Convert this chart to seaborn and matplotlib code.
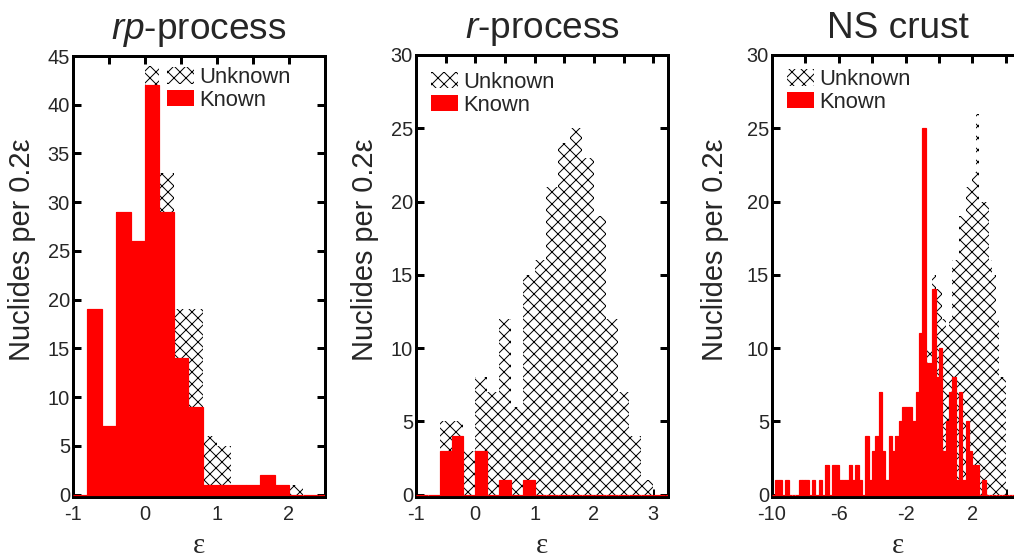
import numpy as np
import pandas as pd
import matplotlib
matplotlib.use("Agg")
import matplotlib.pyplot as plt
from matplotlib.patches import Patch
import seaborn as sns

# ── data: nuclides per 0.2 bin ───────────────────────────────
BIN = 0.2

rp_start = -1.0
rp_known = [0, 19, 7, 29, 26, 42, 29, 14, 9, 1, 1, 1, 1, 2, 1, 0, 0, 0]
rp_total = [0, 19, 7, 29, 26, 44, 33, 19, 19, 6, 5, 1, 1, 2, 1, 1, 0, 0]

r_start = -1.0
r_known = [0, 0, 3, 4, 0, 3, 0, 1, 0, 1, 0, 0, 0, 0, 0, 0, 0, 0, 0, 0, 0, 0]
r_total = [0, 0, 5, 5, 3, 8, 7, 12, 6, 15, 16, 21, 24, 25, 23, 19, 12, 7, 4, 1, 0, 0]

ns_start = -10.0
ns_known = [0, 1, 1, 0, 1, 0, 0, 0, 1, 1,
            1, 0, 1, 0, 1, 0, 2, 0, 2, 2,
            1, 1, 1, 2, 1, 2, 1, 0, 4, 1,
            3, 4, 7, 3, 1, 4, 3, 4, 5, 6,
            6, 6, 5, 7, 11, 25, 9, 9, 14, 8,
            10, 3, 5, 7, 8, 1, 7, 1, 5, 3,
            2, 2, 0, 1, 0, 0, 0, 0, 0, 0,
            0, 0, 0, 0, 0]
ns_total = [0, 1, 1, 0, 1, 0, 0, 0, 1, 1,
            1, 0, 1, 0, 1, 0, 2, 0, 2, 2,
            1, 1, 1, 2, 1, 2, 1, 0, 4, 1,
            3, 4, 7, 3, 1, 4, 3, 4, 5, 6,
            6, 6, 5, 7, 11, 25, 10, 10, 15, 14,
            14, 12, 11, 12, 16, 16, 19, 19, 21, 21,
            22, 26, 20, 20, 20, 16, 15, 12, 8, 8,
            0, 0, 0, 0, 0]

titles = [r"$\mathit{rp}$-process", r"$\mathit{r}$-process", "NS crust"]

# ── style ────────────────────────────────────────────────────
sns.set_style("ticks")
plt.rcParams["font.family"] = ["Liberation Sans", "DejaVu Sans"]
plt.rcParams["mathtext.fontset"] = "custom"
plt.rcParams["mathtext.rm"] = "Liberation Sans"
plt.rcParams["mathtext.it"] = "Liberation Sans:italic"
plt.rcParams["hatch.linewidth"] = 1.0

W, H, DPI = 1014, 560, 72
fig = plt.figure(figsize=(W / DPI, H / DPI), dpi=DPI)


def px_axes(left, right, top, bottom):
    return fig.add_axes([left / W, 1 - bottom / H, (right - left) / W, (bottom - top) / H])


def draw_panel(ax, start, known, total, title, xlim, ylim, xmajor, xminor, yticks,
               leg_xy, ylab_x):
    edges = [round(start + BIN * i, 2) for i in range(len(known) + 1)]
    df = pd.DataFrame({"eps": np.array(edges[:-1]) + BIN / 2,
                       "known": known, "total": total})
    # unknown (total) as hatched bars, known on top in red
    sns.histplot(data=df, x="eps", weights="total", bins=edges, ax=ax,
                 facecolor="white", edgecolor="black", linewidth=0,
                 hatch="xx", zorder=1)
    sns.histplot(data=df, x="eps", weights="known", bins=edges, ax=ax,
                 facecolor="red", edgecolor="red", linewidth=1.2, zorder=3)

    ax.set_xticks(xmajor)
    ax.set_xticklabels([f"{v:g}" for v in xmajor])
    ax.set_xticks(xminor, minor=True)
    ax.set_yticks(yticks)
    ax.set_xlim(*xlim)
    ax.set_ylim(*ylim)

    for s in ax.spines.values():
        s.set_linewidth(3)
        s.set_color("black")
        s.set_visible(True)
    ax.tick_params(which="both", direction="in", length=8, width=3,
                   top=True, right=True, color="black")
    ax.tick_params(axis="x", labelsize=20, pad=8)
    ax.tick_params(axis="y", labelsize=20, pad=3)

    ax.set_title(title, fontsize=37, pad=17)
    ax.set_ylabel("Nuclides per 0.2ε", fontsize=29)
    ax.yaxis.set_label_coords(ylab_x, 0.56)
    ax.set_xlabel("ε", fontsize=29, fontfamily="Liberation Serif", va="bottom")
    ax.xaxis.set_label_coords(0.5, -0.14)

    handles = [Patch(facecolor="white", edgecolor="black", hatch="xx", lw=0, label="Unknown"),
               Patch(facecolor="red", edgecolor="red", lw=0, label="Known")]
    ax.legend(handles=handles, loc="upper left", bbox_to_anchor=leg_xy,
              frameon=False, fontsize=22, handlelength=1.23, handleheight=0.77,
              handletextpad=0.22, labelspacing=0.08, borderpad=0, borderaxespad=0)


ax1 = px_axes(73, 325, 56, 497)
draw_panel(ax1, rp_start, rp_known, rp_total, titles[0],
           (-1, 2.5), (-0.25, 45), [-1, 0, 1, 2], [-0.5, 0.5, 1.5],
           range(0, 46, 5), (0.373, 0.975), -0.147)

ax2 = px_axes(416, 668, 55, 497)
draw_panel(ax2, r_start, r_known, r_total, titles[1],
           (-1, 3.25), (-0.17, 30), [-1, 0, 1, 2, 3], [-0.5, 0.5, 1.5, 2.5],
           range(0, 31, 5), (0.06, 0.962), -0.147)

ax3 = px_axes(772, 1024, 55, 497)
draw_panel(ax3, ns_start, ns_known, ns_total, titles[2],
           (-10, 5.1), (-0.17, 30), [-10, -6, -2, 2], [-8, -4, 0, 4],
           range(0, 31, 5), (0.06, 0.968), -0.172)

fig.savefig("out.png", dpi=DPI)
